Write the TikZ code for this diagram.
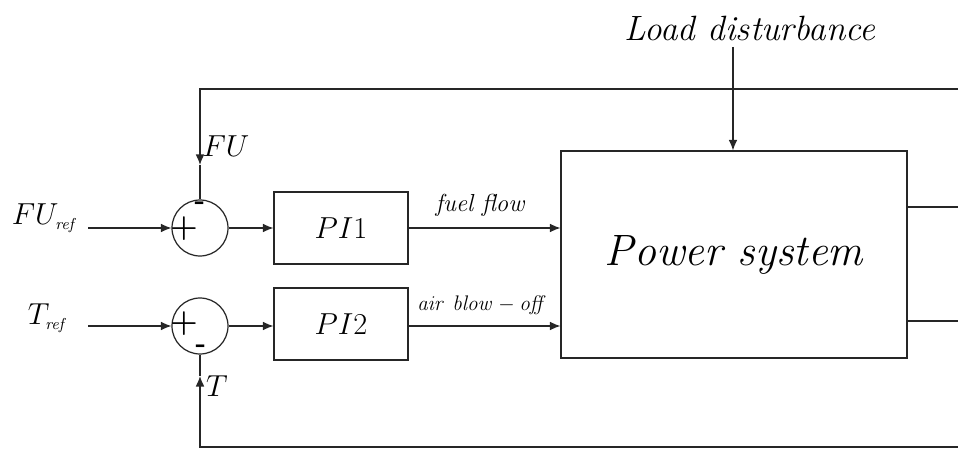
\documentclass[tikz,border=0pt]{standalone}
\usetikzlibrary{arrows.meta}
\begin{document}
\begin{tikzpicture}[
    x=0.02cm, y=-0.02cm,
    blockBox/.style={rectangle,draw=black!85,line width=0.7pt,inner sep=0pt},
    sumNode/.style={circle,draw=black!85,line width=0.7pt,minimum size=1.12cm,inner sep=0pt},
    signTxt/.style={inner sep=0pt,font=\fontsize{16}{18}\selectfont\bfseries},
    sigArrow/.style={-{Latex[length=6pt,width=5pt]},line width=0.7pt,draw=black!85},
    sigLine/.style={line width=0.7pt,draw=black!85},
]
\useasboundingbox (0,0) rectangle (958,449);
% blocks
\node[sumNode] (sumFU) at (200,228) {};
\node[sumNode] (sumT) at (200,326) {};
\node[blockBox,minimum width=2.68cm,minimum height=1.44cm,font=\fontsize{17}{20}\selectfont] (PIone) at (341,228) {$PI1$};
\node[blockBox,minimum width=2.68cm,minimum height=1.44cm,font=\fontsize{17}{20}\selectfont] (PItwo) at (341,324) {$PI2$};
\node[blockBox,minimum width=6.92cm,minimum height=4.14cm,font=\fontsize{25}{30}\selectfont\itshape] (PS) at (734,254.5) {Power system};
% signs in the summers
\node[signTxt,font=\fontsize{18}{20}\selectfont\bfseries] (plusFU) at (184,229) {+};
\node[signTxt] (minusFU) at (200,206) {-};
\node[signTxt,font=\fontsize{18}{20}\selectfont\bfseries] (plusT) at (184,324) {+};
\node[signTxt] (minusT) at (201,349) {-};
% labels
\node[font=\fontsize{19}{22}\selectfont,inner sep=1pt] (FUref) at (45,218) {$FU_{\scriptscriptstyle\mathit{ref}}$};
\node[font=\fontsize{19}{22}\selectfont,inner sep=1pt] (Tref) at (48,318) {$T_{\scriptscriptstyle\mathit{ref}}$};
\node[font=\fontsize{16}{18}\selectfont] (FUlbl) at (226,146) {$FU$};
\node[font=\fontsize{16}{18}\selectfont] (Tlbl) at (217,386) {$T$};
\node[font=\fontsize{14}{16}\selectfont\itshape] (fuelLbl) at (480,205) {fuel flow};
\node[font=\fontsize{13}{15}\selectfont] (airLbl) at (482,305) {$\mathit{air\ blow-off}$};
\node[font=\fontsize{20}{24}\selectfont\itshape] (loadLbl) at (750,28) {Load disturbance};
% coordinates
\coordinate (refFUin) at (88,228);
\coordinate (refTin) at (88,326);
\coordinate (topR) at (958,89);
\coordinate (topL) at (200,89);
\coordinate (fuTip) at (200,165);
\coordinate (botR) at (958,447);
\coordinate (botL) at (200,447);
\coordinate (tTip) at (200,376);
\coordinate (loadTop) at (733,47);
% connections
\draw[sigArrow] (refFUin) -- (sumFU.west);
\draw[sigArrow] (refTin) -- (sumT.west);
\draw[sigArrow] (sumFU.east) -- (sumFU.east -| PIone.west);
\draw[sigArrow] (sumT.east) -- (sumT.east -| PItwo.west);
\draw[sigArrow] (PIone.east) -- (PS.west |- PIone.east);
\draw[sigArrow] (PItwo.east |- sumT.east) -- (PS.west |- sumT.east);
\draw[sigArrow] (loadTop) -- (PS.north -| loadTop);
\draw[sigLine] (PS.east |- 0,207) -- (958,207);
\draw[sigLine] (PS.east |- 0,321) -- (958,321);
\draw[sigArrow] (topR) -- (topL) -- (fuTip);
\draw[sigLine] (fuTip) -- (sumFU.north);
\draw[sigArrow] (botR) -- (botL) -- (tTip);
\draw[sigLine] (tTip) -- (sumT.south);
\end{tikzpicture}
\end{document}
